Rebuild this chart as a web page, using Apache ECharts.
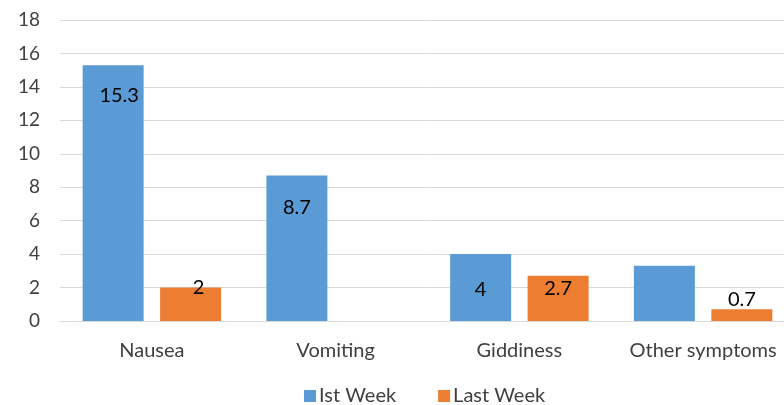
<!DOCTYPE html>
<html>
<head>
<meta charset="utf-8">
<script src="https://cdn.jsdelivr.net/npm/echarts@6/dist/echarts.min.js"></script>
<style>
  html, body { margin: 0; padding: 0; background: #fff; overflow: hidden; }
  #wrap { width: 784px; height: 405px; overflow: hidden; }
  /* plot runs a little past the right edge, like the cropped original */
  #chart { width: 795px; height: 405px; }
</style>
</head>
<body>
<div id="wrap"><div id="chart"></div></div>
<script>
const categories = ["Nausea", "Vomiting", "Giddiness", "Other symptoms"];
const firstWeek = [15.3, 8.7, 4, 3.3];
const lastWeek = [2, null, 2.7, 0.7];
const yTicks = [0, 2, 4, 6, 8, 10, 12, 14, 16, 18];

// label placement per bar, the way the original chart had them
const firstLabels = [
  { show: true, position: "insideTop", distance: 20, offset: [6, 0] },
  { show: true, position: "insideTop", distance: 22 },
  { show: true, position: "insideTop", distance: 25 },
  { show: false }
];
const lastLabels = [
  { show: true, position: "insideTop", distance: -10, offset: [8, 0] },
  { show: false },
  { show: true, position: "insideTop", distance: 3 },
  { show: true, position: "top", distance: 0 }
];

const font = "Lato";
const chart = echarts.init(document.getElementById("chart"));
chart.setOption({
  animation: false,
  textStyle: { fontFamily: font },
  color: ["#5B9BD5", "#ED7D31"],
  grid: { left: 60, top: 20, right: 0, bottom: 84, containLabel: false },
  legend: {
    top: 381,
    left: 299,
    itemWidth: 12,
    itemHeight: 12,
    itemGap: 42,
    icon: "rect",
    textStyle: { fontSize: 20, color: "#404040", fontFamily: font, padding: [0, 0, 0, -2] },
    data: ["Ist Week", "Last Week"]
  },
  xAxis: {
    type: "category",
    data: categories,
    axisTick: { show: false },
    axisLine: { lineStyle: { color: "#d9d9d9" } },
    axisLabel: { fontSize: 20, color: "#404040", margin: 20, interval: 0 }
  },
  yAxis: {
    type: "value",
    min: yTicks[0],
    max: yTicks[yTicks.length - 1],
    interval: 2,
    axisLine: { show: false },
    axisTick: { show: false },
    splitLine: { lineStyle: { color: "#d9d9d9" } },
    axisLabel: { fontSize: 19, color: "#404040", margin: 20 }
  },
  series: [
    {
      name: "Ist Week",
      type: "bar",
      barWidth: 61,
      barGap: "27%",
      data: firstWeek.map((v, i) => ({ value: v, label: firstLabels[i] })),
      label: { fontSize: 20, color: "#000", fontFamily: font }
    },
    {
      name: "Last Week",
      type: "bar",
      barWidth: 61,
      data: lastWeek.map((v, i) => ({ value: v, label: lastLabels[i] })),
      label: { fontSize: 20, color: "#000", fontFamily: font }
    }
  ]
});
</script>
</body>
</html>
